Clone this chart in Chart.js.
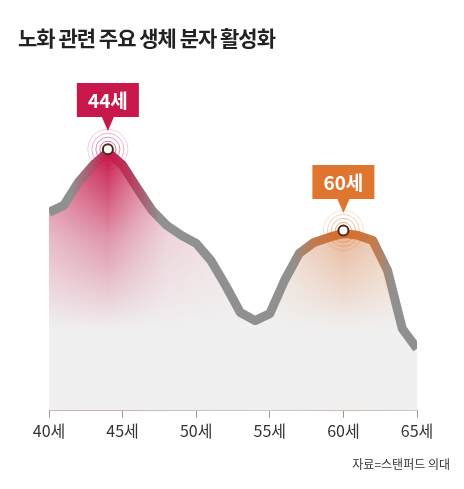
<!DOCTYPE html>
<html><head><meta charset="utf-8">
<script src="https://cdn.jsdelivr.net/npm/chart.js@4"></script>
<style>
body{margin:0;background:#fff;font-family:"Noto Sans CJK KR",sans-serif;}
#wrap{position:relative;width:464px;height:489px;}
h1{position:absolute;left:18px;top:22px;margin:0;font-size:21px;font-weight:700;color:#222;letter-spacing:-1px;}
#src{position:absolute;right:14px;top:455px;font-size:12px;color:#333;}
canvas{position:absolute;left:0;top:0;}
</style></head><body>
<div id="wrap">
<canvas id="c" width="464" height="489"></canvas>
<h1>노화 관련 주요 생체 분자 활성화</h1>
<div id="src">자료=스탠퍼드 의대</div>
</div>
<script>
// 나이와 활성도 (임의 단위, 그림에서 읽음)
const ages = [40,41,42,43,44,45,46,47,48,49,50,51,52,53,54,55,56,57,58,59,60,61,62,63,64,65];
const activity = [198,205,228,245,258,245,222,200,185,175,167,150,125,98,90,97,130,157,168,173,177,175,170,140,82,62];
const tickAges = [40,45,50,55,60,65];
const peaks = [
  {age: 44, label: '44세', color: '#c8174a', boxY: 100},
  {age: 60, label: '60세', color: '#e0752f', boxY: 182}
];

const marks = {
  id: 'marks',
  beforeDatasetsDraw(chart) {
    const {ctx, scales: {x, y}} = chart;
    ctx.save();
    ctx.strokeStyle = 'rgba(170,170,170,0.8)';
    ctx.lineWidth = 1;
    peaks.forEach(p => {
      const px = x.getPixelForValue(p.age);
      const py = y.getPixelForValue(activity[ages.indexOf(p.age)]);
      ctx.beginPath(); ctx.moveTo(px, py); ctx.lineTo(px, y.getPixelForValue(0)); ctx.stroke();
    });
    ctx.restore();
  },
  afterDatasetsDraw(chart) {
    const {ctx, scales: {x, y}} = chart;
    ctx.save();
    peaks.forEach(p => {
      const px = x.getPixelForValue(p.age);
      const py = y.getPixelForValue(activity[ages.indexOf(p.age)]) - 3;
      [8, 12, 16, 20].forEach((r, i) => {
        ctx.beginPath(); ctx.arc(px, py, r, 0, Math.PI * 2);
        ctx.strokeStyle = p.color; ctx.globalAlpha = 0.6 - i * 0.13; ctx.lineWidth = 1; ctx.stroke();
      });
      ctx.globalAlpha = 1;
      ctx.beginPath(); ctx.arc(px, py, 5, 0, Math.PI * 2);
      ctx.fillStyle = '#fff'; ctx.fill();
      ctx.lineWidth = 2; ctx.strokeStyle = '#4a2a1a'; ctx.stroke();
      const w = 62, h = 34, by = p.boxY - h / 2;
      ctx.fillStyle = p.color;
      ctx.fillRect(px - w / 2, by, w, h);
      ctx.beginPath(); ctx.moveTo(px - 6, by + h); ctx.lineTo(px + 6, by + h); ctx.lineTo(px, by + h + 14); ctx.fill();
      ctx.fillStyle = '#fff'; ctx.font = 'bold 19px "Noto Sans CJK KR"';
      ctx.textAlign = 'center'; ctx.textBaseline = 'middle';
      ctx.fillText(p.label, px, p.boxY + 1);
    });
    ctx.restore();
  }
};

function hGrad(ctx, area, x, stops) {
  const g = ctx.createLinearGradient(area.left, 0, area.right, 0);
  stops.forEach(([a, c]) => g.addColorStop((x.getPixelForValue(a) - area.left) / (area.right - area.left), c));
  return g;
}

const pts = ages.map((a, i) => ({x: a, y: activity[i]}));

new Chart(document.getElementById('c'), {
  type: 'line',
  data: {
    datasets: [
      {
        data: pts,
        borderColor: c => {
          const {ctx, chartArea, scales} = c.chart;
          if (!chartArea) return '#909090';
          return hGrad(ctx, chartArea, scales.x, [
            [40, '#909090'], [41.5, '#909090'], [43, '#b0506a'], [44, '#c8174a'], [45.5, '#b83a5c'], [47.5, '#909090'],
            [56.5, '#909090'], [58, '#c07a50'], [60, '#d86a2a'], [62, '#c87a48'], [63.3, '#909090'], [65, '#909090']
          ]);
        },
        borderWidth: 9,
        borderJoinStyle: 'round',
        tension: 0,
        pointRadius: 0,
        fill: false,
        order: 0
      },
      {
        data: pts,
        borderWidth: 0,
        pointRadius: 0,
        fill: 'origin',
        backgroundColor: c => {
          const {ctx, chartArea, scales} = c.chart;
          if (!chartArea) return 'rgba(0,0,0,0)';
          return hGrad(ctx, chartArea, scales.x, [
            [40, 'rgba(200,30,80,0.6)'], [44, 'rgba(200,23,74,0.95)'], [48, 'rgba(200,60,100,0.4)'],
            [54, 'rgba(225,150,120,0.25)'], [60, 'rgba(224,110,40,0.95)'], [63, 'rgba(224,117,47,0.6)'],
            [65, 'rgba(200,170,160,0.25)']
          ]);
        },
        order: 2
      },
      {
        data: pts,
        borderWidth: 0,
        pointRadius: 0,
        fill: 'origin',
        backgroundColor: c => {
          const {ctx, chartArea, scales} = c.chart;
          if (!chartArea) return 'rgba(0,0,0,0)';
          const g = ctx.createLinearGradient(0, scales.y.getPixelForValue(250), 0, scales.y.getPixelForValue(80));
          g.addColorStop(0, 'rgba(240,240,240,0)');
          g.addColorStop(0.45, 'rgba(240,240,240,0.55)');
          g.addColorStop(1, 'rgba(240,240,240,1)');
          return g;
        },
        order: 1
      }
    ]
  },
  options: {
    responsive: false,
    animation: false,
    layout: {padding: {left: 49, right: 47, top: 62, bottom: 44}},
    plugins: {legend: {display: false}, tooltip: {enabled: false}},
    scales: {
      x: {
        type: 'linear', min: 40, max: 65,
        afterBuildTicks: s => { s.ticks = tickAges.map(v => ({value: v})); },
        grid: {display: true, drawOnChartArea: false, tickLength: 7, color: '#999'},
        border: {color: '#aaa', width: 1},
        ticks: {callback: v => v + '세', color: '#333', font: {size: 16, family: 'Noto Sans CJK KR'}, padding: 4}
      },
      y: {display: false, min: 0, max: 348}
    }
  },
  plugins: [marks]
});
</script>
</body></html>
